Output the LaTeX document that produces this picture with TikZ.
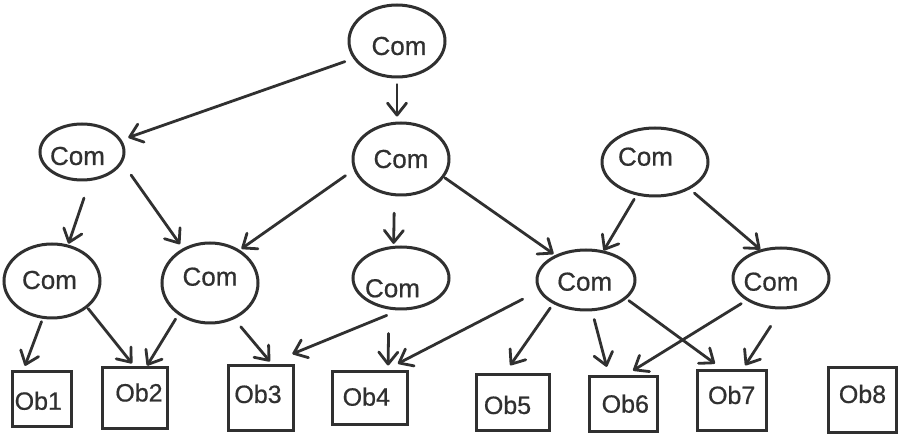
\documentclass[tikz,border=0pt]{standalone}
\usepackage{fontspec}
\setmainfont{Liberation Sans}
\newfontfamily\hand[FakeBold=0.6]{Liberation Sans}
\usetikzlibrary{arrows.meta,shapes.geometric}
\definecolor{ink}{HTML}{303030}
\begin{document}
\begin{tikzpicture}[x=1pt,y=-1pt,
  com/.style={ellipse,draw=ink,line width=3pt,inner sep=0pt},
  ob/.style={rectangle,draw=ink,line width=3pt,inner sep=0pt},
  comtext/.style={text=ink,font=\hand\fontsize{26}{30}\selectfont,inner sep=0pt},
  obtext/.style={text=ink,font=\hand\fontsize{25}{30}\selectfont,inner sep=0pt},
  arr/.style={draw=ink,line width=2.8pt,line cap=round,-{Straight Barb[length=12pt,width=19pt,line cap=round,line join=round]}},
]
\fill[white] (0,0) rectangle (900,435);
\useasboundingbox (0,0) rectangle (900,435);

% Com ellipses
\node[com,minimum width=96pt,minimum height=72pt,label={[comtext,name=t1,xshift=2pt,yshift=-5pt]center:Com}] (c1) at (397,41) {};
\node[com,minimum width=84pt,minimum height=56pt,label={[comtext,name=t2,xshift=-4.5pt,yshift=-4pt]center:Com}] (c2) at (82,152) {};
\node[com,minimum width=96pt,minimum height=72pt,label={[comtext,name=t3]center:Com}] (c3) at (401,159) {};
\node[com,minimum width=106pt,minimum height=68pt,label={[comtext,name=t4,xshift=-9.5pt,yshift=5.3pt]center:Com}] (c4) at (655,162) {};
\node[com,minimum width=96pt,minimum height=74pt,label={[comtext,name=t5,xshift=-2.5pt,yshift=1pt]center:Com}] (c5) at (52,281) {};
\node[com,minimum width=96pt,minimum height=80pt,label={[comtext,name=t6,yshift=6.3pt]center:Com}] (c6) at (210,283) {};
\node[com,minimum width=96pt,minimum height=62pt,label={[comtext,name=t7,xshift=-8.5pt,yshift=-10.3pt]center:Com}] (c7) at (401,278) {};
\node[com,minimum width=98pt,minimum height=60pt,label={[comtext,name=t8,xshift=-1.3pt,yshift=-1.7pt]center:Com}] (c8) at (586,280) {};
\node[com,minimum width=96pt,minimum height=60pt,label={[comtext,name=t9,xshift=-10pt,yshift=-3.7pt]center:Com}] (c9) at (781,278) {};

% Object boxes
\node[ob,minimum width=59pt,minimum height=55pt,label={[obtext,name=o1,xshift=-3.2pt,yshift=-1.3pt]center:Ob1}] (ob1) at (41.5,399.5) {};
\node[ob,minimum width=65pt,minimum height=61pt,label={[obtext,name=o2,xshift=4.5pt,yshift=6pt]center:Ob2}] (ob2) at (134.5,398.5) {};
\node[ob,minimum width=65pt,minimum height=65pt,label={[obtext,name=o3,xshift=-2.5pt,yshift=4.5pt]center:Ob3}] (ob3) at (260.5,398.5) {};
\node[ob,minimum width=75pt,minimum height=53pt,label={[obtext,name=o4,xshift=-3.2pt,yshift=1.8pt]center:Ob4}] (ob4) at (369.5,398.5) {};
\node[ob,minimum width=73pt,minimum height=56pt,label={[obtext,name=o5,xshift=-5pt,yshift=-2pt]center:Ob5}] (ob5) at (512.5,403) {};
\node[ob,minimum width=68pt,minimum height=55pt,label={[obtext,name=o6,xshift=2.3pt,yshift=0.8pt]center:Ob6}] (ob6) at (623,404.5) {};
\node[ob,minimum width=69pt,minimum height=60pt,label={[obtext,name=o7,xshift=0.2pt,yshift=6pt]center:Ob7}] (ob7) at (731.5,401) {};
\node[ob,minimum width=68pt,minimum height=65pt,label={[obtext,name=o8,xshift=0.5pt,yshift=6.5pt]center:Ob8}] (ob8) at (862,400.5) {};

% Connectors
\draw[arr,shorten <=9pt,shorten >=7pt] (c1.202) -- (c2.17);
\draw[arr,shorten <=6pt,shorten >=5pt] (c1.south) -- ([xshift=-4pt]c3.north);
\draw[arr,shorten <=18pt,shorten >=1pt] (c2.285) -- (c5.66);
\draw[arr,shorten <=15pt,shorten >=5pt] (c2.345) -- (c6.128);
\draw[arr,shorten <=10pt,shorten >=2pt] (c3.193) -- (c6.48);
\draw[arr,shorten <=17pt,shorten >=2pt] (c3.260) -- (c7.103);
\draw[arr,shorten <=1pt,shorten >=2pt] (c3.337) -- (c8.141);
\draw[arr,shorten <=4.5pt,shorten >=0pt] (c4.241) -- (c8.59);
\draw[arr,shorten <=6pt,shorten >=0pt] (c4.322) -- (c9.126);
\draw[arr,shorten <=3pt,shorten >=5pt] (c5.256) -- ([xshift=-18.3pt]ob1.north);
\draw[arr,shorten <=1pt,shorten >=4pt] (c5.323) -- (ob2.north);
\draw[arr,shorten <=5pt,shorten >=1pt] (c6.225) -- ([xshift=12pt]ob2.north);
\draw[arr,shorten <=10pt,shorten >=4pt] (c6.304) -- ([xshift=12pt]ob3.north);
\draw[arr,shorten <=13pt,shorten >=28pt] (c7.266) -- ([xshift=6pt]ob3.north);
\draw[arr,shorten <=24pt,shorten >=5pt] (c7.249) -- ([xshift=18.5pt]ob4.north);
\draw[arr,shorten <=18pt,shorten >=15pt] (c8.193) -- ([xshift=15pt]ob4.north);
\draw[arr,shorten <=5pt,shorten >=10pt] (c8.216) -- ([xshift=-8pt]ob5.north);
\draw[arr,shorten <=8.5pt,shorten >=9pt] (c8.281) -- ([xshift=-14pt]ob6.north);
\draw[arr,shorten <=3pt,shorten >=10pt] (c8.335) -- ([xshift=-8.5pt]ob7.north);
\draw[arr,shorten <=6pt,shorten >=9.5pt] (c9.213) -- ([xshift=2pt]ob6.north);
\draw[arr,shorten <=20pt,shorten >=5pt] (c9.271) -- ([xshift=11pt]ob7.north);
\end{tikzpicture}
\end{document}
